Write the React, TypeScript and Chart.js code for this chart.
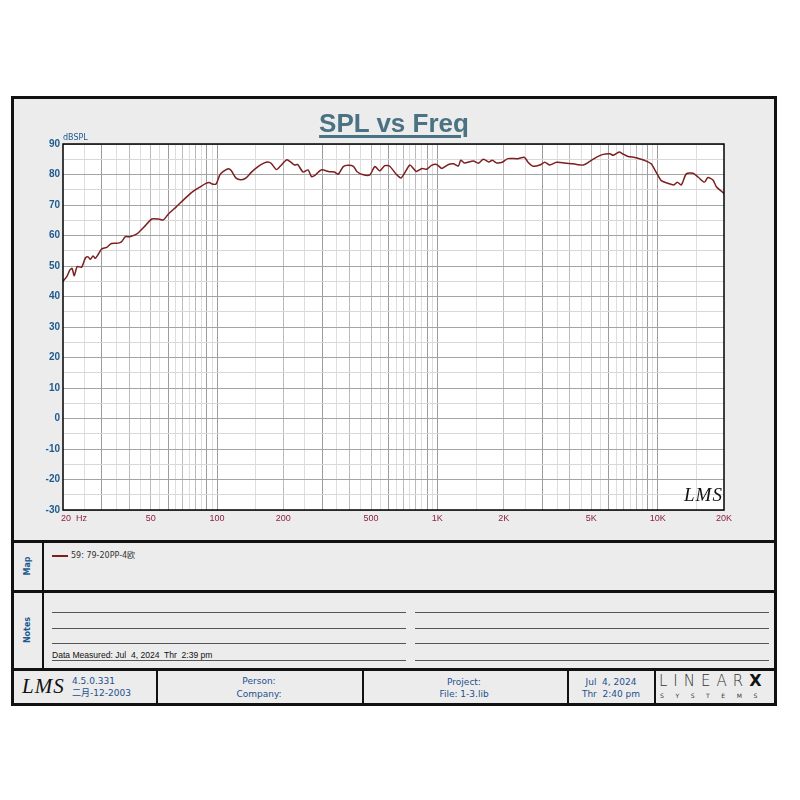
import React, { useEffect, useRef } from "react";
import { Chart, registerables } from "chart.js";
Chart.register(...registerables);

// ---- data ----
const freqHz = [
  20, 20.8, 21.5, 22.0, 22.5, 23.2, 24.3, 25.3, 26.0, 26.6,
  27.4, 28.0, 29.0, 30.0, 31.6, 33.2, 35.6, 36.8, 38.4, 40.2,
  43.3, 46.5, 50.6, 54.3, 57.1, 60.1, 65.3, 72.5, 77.6, 83.2,
  89.1, 92.2, 94.8, 99, 103, 106.9, 112.5, 116, 122, 129,
  136, 143, 153, 164, 170, 176, 186, 193, 207, 214,
  225, 232, 246, 259, 268, 277, 297, 324, 341, 355,
  374, 393, 416, 431, 461, 494, 521, 548, 577, 608,
  651, 686, 749, 778, 803, 853, 895, 941, 993, 1048,
  1124, 1182, 1246, 1277, 1323, 1457, 1536, 1618, 1713, 1775,
  1860, 1969, 2087, 2317, 2488, 2580, 2724, 2917, 3075, 3238,
  3476, 3872, 4287, 4598, 4922, 5283, 5661, 6070, 6290, 6690,
  6926, 7334, 7861, 8145, 8740, 9340, 9850, 10380, 11060, 11850,
  12270, 12800, 13490, 14470, 15290, 16300, 16900, 17820, 18460, 19490,
  20000,
];
const splDb = [
  45.0, 46.5, 48.7, 49.2, 46.8, 49.8, 49.6, 52.7, 53.0, 52.2,
  53.3, 52.5, 54.0, 55.6, 56.1, 57.4, 57.5, 57.9, 59.6, 59.6,
  60.5, 62.7, 65.4, 65.4, 65.1, 67.0, 69.4, 72.5, 74.4, 75.8,
  77.1, 77.4, 76.9, 76.9, 79.9, 81.0, 81.9, 81.3, 78.8, 78.3,
  79.0, 80.7, 82.5, 83.8, 84.1, 83.7, 81.6, 82.6, 84.8, 84.3,
  83.1, 83.3, 80.8, 81.5, 79.4, 79.6, 81.5, 80.9, 80.8, 80.1,
  82.6, 83.0, 82.7, 81.0, 79.9, 79.9, 82.6, 81.2, 82.9, 82.7,
  80.1, 78.9, 83.1, 82.0, 81.0, 82.0, 81.7, 83.0, 83.3, 82.0,
  83.3, 83.5, 82.8, 84.7, 83.8, 84.4, 83.7, 85.0, 84.1, 84.7,
  83.8, 84.0, 85.2, 85.2, 85.6, 84.0, 82.7, 83.1, 84.0, 83.1,
  84.0, 83.7, 83.3, 83.1, 84.3, 85.7, 86.6, 86.8, 86.3, 87.4,
  86.8, 85.9, 85.6, 85.3, 84.6, 83.5, 80.7, 78.0, 77.2, 76.6,
  77.5, 76.6, 80.2, 80.4, 79.1, 77.5, 79.0, 78.2, 76.0, 74.5,
  73.8,
];
const xTickValues = [20, 50, 100, 200, 500, 1000, 2000, 5000, 10000, 20000];
const xTickLabels = ["20  Hz", "50", "100", "200", "500", "1K", "2K", "5K", "10K", "20K"];
const yTickValues = [90, 80, 70, 60, 50, 40, 30, 20, 10, 0, -10, -20, -30];
const gridMantissas = [1.5, 2, 2.5, 3, 3.5, 4, 4.5, 5, 5.5, 6, 6.5, 7, 7.5, 8, 8.5, 9, 9.5, 10];
const decades = [10, 100, 1000, 10000];

const gridFreqs: number[] = [];
decades.forEach((d) =>
  gridMantissas.forEach((m) => {
    const v = Math.round(d * m);
    if (v > 20 && v < 20000 && !gridFreqs.includes(v)) gridFreqs.push(v);
  })
);

const BLUE = "#1d5a8e";
const FOOT = "#24508c";

const plotPlugin = {
  id: "plotDeco",
  beforeDraw(chart: any) {
    const { ctx, chartArea: a } = chart;
    ctx.save();
    ctx.fillStyle = "#ffffff";
    ctx.fillRect(a.left, a.top, a.right - a.left, a.bottom - a.top);
    ctx.restore();
  },
  afterDraw(chart: any) {
    const { ctx, chartArea: a, scales } = chart;
    ctx.save();
    ctx.strokeStyle = "#000";
    ctx.lineWidth = 1.5;
    ctx.strokeRect(a.left, a.top, a.right - a.left, a.bottom - a.top);
    // y labels
    ctx.fillStyle = BLUE;
    ctx.font = "bold 10px 'Liberation Sans', Arial, sans-serif";
    ctx.textAlign = "right";
    ctx.textBaseline = "middle";
    yTickValues.forEach((v) => {
      ctx.fillText(String(v), a.left - 3, scales.y.getPixelForValue(v));
    });
    // unit
    ctx.font = "8px 'DejaVu Sans', sans-serif";
    ctx.textAlign = "left";
    ctx.textBaseline = "alphabetic";
    ctx.fillText("dBSPL", a.left, a.top - 4);
    // x labels
    ctx.fillStyle = "#8a2048";
    ctx.font = "9px 'Liberation Sans', Arial, sans-serif";
    ctx.textBaseline = "middle";
    xTickValues.forEach((v, i) => {
      const px = scales.x.getPixelForValue(v);
      if (i === 0) {
        ctx.textAlign = "left";
        ctx.fillText(xTickLabels[i], px - 2, a.bottom + 9);
      } else {
        ctx.textAlign = "center";
        ctx.fillText(xTickLabels[i], px, a.bottom + 9);
      }
    });
    ctx.restore();
  },
};

function xGridColor(ctx: any) {
  const v = ctx.tick ? ctx.tick.value : 0;
  const d = Math.pow(10, Math.floor(Math.log10(v) + 1e-9));
  const m = Math.round((v / d) * 10) / 10;
  if (m === 1 || m === 3 || m === 6 || m === 9) return "#9c9c9c";
  if (Number.isInteger(m)) return "#bcbcbc";
  return "#dedede";
}

function SplChart() {
  const ref = useRef<HTMLCanvasElement | null>(null);
  useEffect(() => {
    if (!ref.current) return;
    const chart = new Chart(ref.current, {
      type: "line",
      data: {
        datasets: [
          {
            data: freqHz.map((f, i) => ({ x: f, y: splDb[i] })),
            borderColor: "#7d1f1f",
            borderWidth: 1.5,
            pointRadius: 0,
            tension: 0.25,
            fill: false,
          },
        ],
      },
      options: {
        animation: false,
        responsive: false,
        devicePixelRatio: 1,
        layout: { padding: { left: 63, top: 144, right: 76, bottom: 290 } },
        plugins: { legend: { display: false }, tooltip: { enabled: false } },
        scales: {
          x: {
            type: "logarithmic",
            min: 20,
            max: 20000,
            border: { display: false },
            ticks: { display: false, autoSkip: false },
            grid: { drawTicks: false, color: xGridColor, lineWidth: 1 },
            afterBuildTicks: (scale: any) => {
              scale.ticks = gridFreqs.map((v) => ({ value: v }));
            },
          },
          y: {
            type: "linear",
            min: -30,
            max: 90,
            border: { display: false },
            ticks: { display: false, stepSize: 5 },
            grid: {
              drawTicks: false,
              lineWidth: 1,
              color: (c: any) => (c.tick && c.tick.value % 10 === 0 ? "#a4a4a4" : "#d8d8d8"),
            },
          },
        },
      },
      plugins: [plotPlugin],
    } as any);
    return () => chart.destroy();
  }, []);
  return (
    <canvas
      ref={ref}
      width={800}
      height={800}
      style={{ position: "absolute", left: 0, top: 0, width: 800, height: 800, zIndex: 1 }}
    />
  );
}

const abs = (s: React.CSSProperties): React.CSSProperties => ({ position: "absolute", ...s });
const sans = "'DejaVu Sans', 'Noto Sans CJK SC', sans-serif";

export default function App() {
  const hbar = (y: number, h = 3) => <div style={abs({ left: 11, top: y, width: 766, height: h, background: "#111" })} />;
  const vbar = (x: number, y: number, h: number, w = 2) => <div style={abs({ left: x, top: y, width: w, height: h, background: "#111" })} />;
  const noteLine = (x: number, y: number, w: number) => <div style={abs({ left: x, top: y, width: w, height: 1, background: "#555" })} />;
  const footText = (cx: number, y: number, t: string, align: "center" | "left" = "center") =>
    align === "center" ? (
      <div style={abs({ left: cx - 100, top: y - 6, width: 200, textAlign: "center", font: `9px ${sans}`, lineHeight: "12px", color: FOOT, whiteSpace: "pre" })}>{t}</div>
    ) : (
      <div style={abs({ left: cx, top: y - 6, font: `9px ${sans}`, lineHeight: "12px", color: FOOT, whiteSpace: "pre" })}>{t}</div>
    );
  return (
    <div style={abs({ left: 0, top: 0, width: 800, height: 800, background: "#fff", overflow: "hidden", fontFamily: sans })}>
      {/* frame */}
      <div style={abs({ left: 11, top: 96, width: 766, height: 610, border: "3px solid #111", boxSizing: "border-box", background: "#ececec" })} />
      {hbar(540)}
      {hbar(590)}
      {hbar(668)}
      {vbar(42, 543, 125)}
      {/* footer dividers */}
      {vbar(156, 671, 32)}
      {vbar(362, 671, 32)}
      {vbar(567, 671, 32)}
      {vbar(654, 671, 32)}

      {/* title */}
      <div
        style={abs({
          left: 244,
          top: 110,
          width: 300,
          textAlign: "center",
          font: "bold 26px 'Liberation Sans', Arial, sans-serif",
          lineHeight: "26px",
          color: "#4a7282",
          textDecoration: "underline",
          textDecorationThickness: "2.5px",
          textUnderlineOffset: "3px",
          zIndex: 2,
        })}
      >
        SPL vs Freq
      </div>

      <SplChart />

      {/* LMS logo inside plot */}
      <div style={abs({ left: 684, top: 484, font: "italic 19px 'Liberation Serif', serif", color: "#111", letterSpacing: "1px", zIndex: 2 })}>LMS</div>

      {/* Map section */}
      <div style={abs({ left: 27, top: 566, transform: "translate(-50%, -50%) rotate(-90deg)", font: `bold 8px ${sans}`, color: BLUE })}>Map</div>
      <div style={abs({ left: 52, top: 555, width: 16, height: 1.6, background: "#7d1f1f" })} />
      <div style={abs({ left: 71, top: 550, font: `8px ${sans}`, lineHeight: "12px", color: "#333" })}>59: 79-20PP-4欧</div>

      {/* Notes section */}
      <div style={abs({ left: 27, top: 630, transform: "translate(-50%, -50%) rotate(-90deg)", font: `bold 8px ${sans}`, color: BLUE })}>Notes</div>
      {noteLine(52, 612, 354)}
      {noteLine(415, 612, 354)}
      {noteLine(52, 628, 354)}
      {noteLine(415, 628, 354)}
      {noteLine(52, 643, 354)}
      {noteLine(415, 643, 354)}
      {noteLine(52, 660, 354)}
      {noteLine(415, 660, 354)}
      <div style={abs({ left: 52, top: 651, font: "9px 'Liberation Sans', sans-serif", lineHeight: "9px", color: "#111", whiteSpace: "pre", transform: "scaleX(0.95)", transformOrigin: "left top" })}>
        Data Measured: Jul  4, 2024  Thr  2:39 pm
      </div>

      {/* Footer */}
      <div style={abs({ left: 22, top: 674, font: "italic 21px 'Liberation Serif', serif", color: "#111", letterSpacing: "1px" })}>LMS</div>
      {footText(72, 681, "4.5.0.331", "left")}
      {footText(72, 693, "二月-12-2003", "left")}
      {footText(259, 681, "Person:")}
      {footText(259, 694, "Company:")}
      {footText(464, 682, "Project:")}
      {footText(464, 694, "File: 1-3.lib")}
      {footText(611, 682, "Jul  4, 2024")}
      {footText(611, 694, "Thr  2:40 pm")}
      <div style={abs({ left: 659, top: 673, font: "15px 'DejaVu Sans ExtraLight', 'DejaVu Sans', sans-serif", fontWeight: 200, color: "#333", letterSpacing: "6px", lineHeight: "16px" })}>
        LINEAR<span style={{ fontWeight: 900, fontFamily: "'DejaVu Sans', sans-serif", color: "#111", fontSize: 16, letterSpacing: 0 }}>X</span>
      </div>
      <div style={abs({ left: 660, top: 692, font: `6px ${sans}`, color: "#333", letterSpacing: "11.6px", lineHeight: "8px" })}>SYSTEMS</div>
    </div>
  );
}
